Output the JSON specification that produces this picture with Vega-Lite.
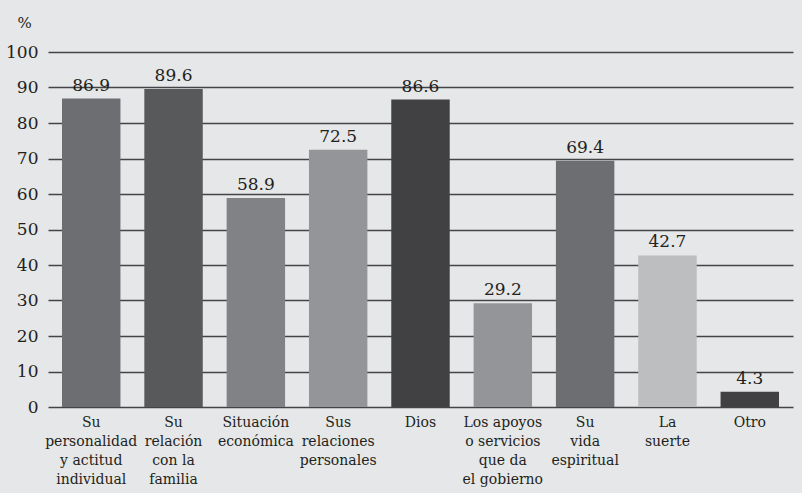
{
  "$schema": "https://vega.github.io/schema/vega-lite/v6.json",
  "width": 745,
  "height": 355,
  "autosize": {"type": "none"},
  "padding": {"left": 48, "top": 52, "right": 9, "bottom": 86},
  "background": "#e6e7e8",
  "data": {
    "values": [
      {"factor": "Su\npersonalidad\ny actitud\nindividual", "pct": 86.9},
      {"factor": "Su\nrelación\ncon la\nfamilia", "pct": 89.6},
      {"factor": "Situación\neconómica", "pct": 58.9},
      {"factor": "Sus\nrelaciones\npersonales", "pct": 72.5},
      {"factor": "Dios", "pct": 86.6},
      {"factor": "Los apoyos\no servicios\nque da\nel gobierno", "pct": 29.2},
      {"factor": "Su\nvida\nespiritual", "pct": 69.4},
      {"factor": "La\nsuerte", "pct": 42.7},
      {"factor": "Otro", "pct": 4.3}
    ]
  },
  "encoding": {
    "x": {
      "field": "factor",
      "type": "nominal",
      "sort": null,
      "title": null,
      "scale": {"paddingInner": 0.29, "paddingOuter": 0.17},
      "axis": {
        "labelExpr": "split(datum.value, '\\n')",
        "labelAngle": 0,
        "labelBaseline": "top",
        "labelPadding": 8,
        "labelLineHeight": 19,
        "labelFont": "DejaVu Serif",
        "labelFontSize": 14,
        "labelColor": "#231f20",
        "ticks": false,
        "domain": false
      }
    },
    "y": {
      "field": "pct",
      "type": "quantitative",
      "scale": {"domain": [0, 100], "nice": false},
      "axis": {
        "values": [0, 10, 20, 30, 40, 50, 60, 70, 80, 90, 100],
        "grid": true,
        "gridColor": "#444446",
        "gridWidth": 1.5,
        "ticks": false,
        "domain": false,
        "labelPadding": 10,
        "labelFont": "DejaVu Serif",
        "labelFontSize": 17,
        "labelColor": "#231f20",
        "title": "%",
        "titleAngle": 0,
        "titleAlign": "center",
        "titleBaseline": "alphabetic",
        "titleX": -24,
        "titleY": -25,
        "titleFont": "DejaVu Serif",
        "titleFontSize": 15,
        "titleFontWeight": "normal",
        "titleColor": "#231f20"
      }
    }
  },
  "layer": [
    {
      "mark": {"type": "bar"},
      "encoding": {
        "color": {
          "field": "factor",
          "type": "nominal",
          "legend": null,
          "scale": {
            "domain": [
              "Su\npersonalidad\ny actitud\nindividual",
              "Su\nrelación\ncon la\nfamilia",
              "Situación\neconómica",
              "Sus\nrelaciones\npersonales",
              "Dios",
              "Los apoyos\no servicios\nque da\nel gobierno",
              "Su\nvida\nespiritual",
              "La\nsuerte",
              "Otro"
            ],
            "range": ["#6d6e71", "#58595b", "#808285", "#939598", "#414042", "#939598", "#6d6e71", "#bcbec0", "#414042"]
          }
        }
      }
    },
    {
      "mark": {
        "type": "text",
        "baseline": "alphabetic",
        "dy": -8,
        "font": "DejaVu Serif",
        "fontSize": 17,
        "color": "#231f20"
      },
      "encoding": {
        "text": {"field": "pct", "type": "quantitative", "format": ".1f"}
      }
    }
  ],
  "config": {
    "view": {"stroke": null}
  }
}
